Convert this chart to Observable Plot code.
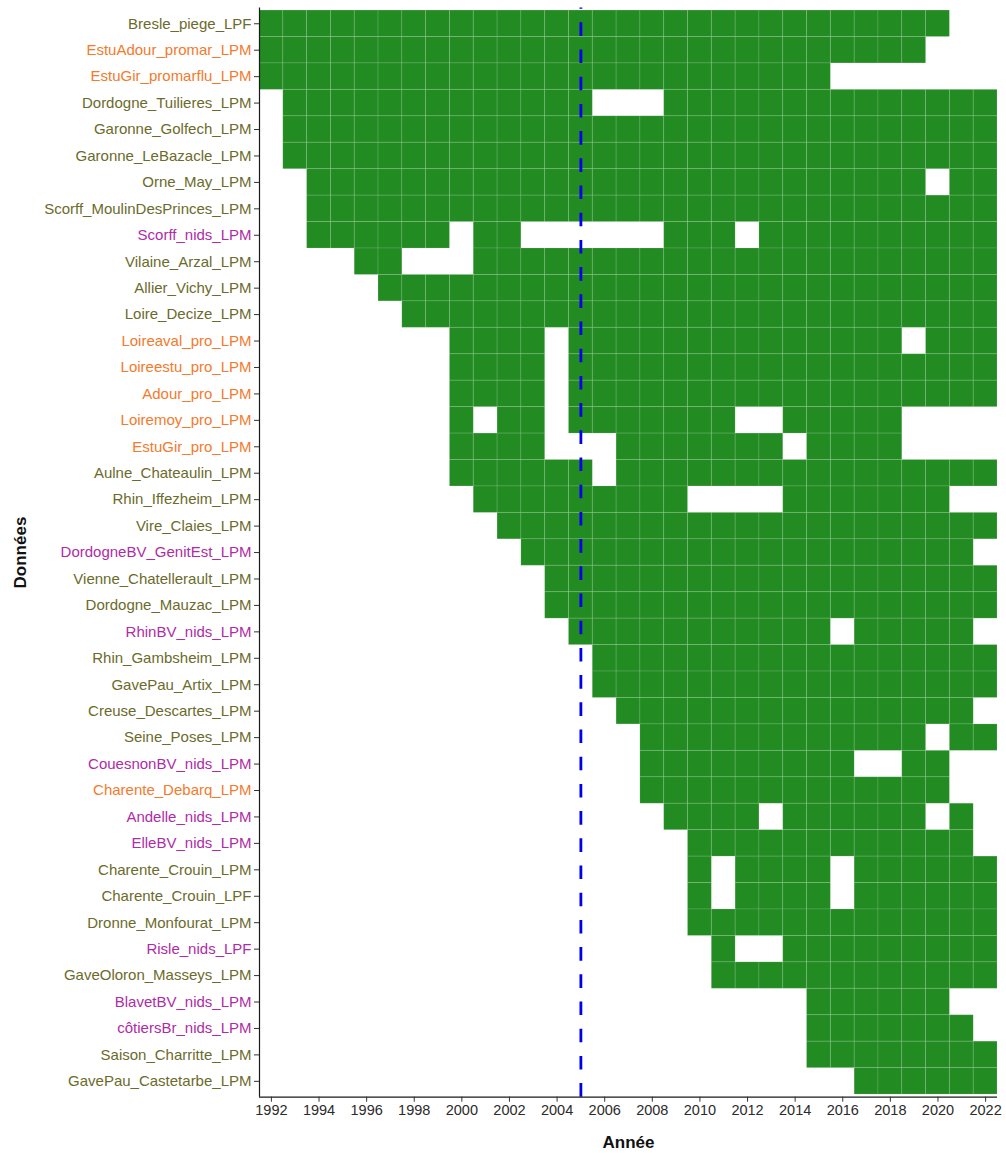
<!DOCTYPE html>
<html>
<head>
<meta charset="utf-8">
<script src="https://cdn.jsdelivr.net/npm/d3@7"></script>
<script src="https://cdn.jsdelivr.net/npm/@observablehq/plot@0.6"></script>
<style>
  html, body { margin: 0; padding: 0; background: #ffffff; }
</style>
</head>
<body>
<div id="chart"></div>
<script>
const years = [1992,1993,1994,1995,1996,1997,1998,1999,2000,2001,2002,2003,2004,2005,2006,2007,2008,2009,2010,2011,2012,2013,2014,2015,2016,2017,2018,2019,2020,2021,2022];
const xTicks = [1992,1994,1996,1998,2000,2002,2004,2006,2008,2010,2012,2014,2016,2018,2020,2022];
const refYear = 2005;

const names = [
  "Bresle_piege_LPF","EstuAdour_promar_LPM","EstuGir_promarflu_LPM","Dordogne_Tuilieres_LPM",
  "Garonne_Golfech_LPM","Garonne_LeBazacle_LPM","Orne_May_LPM","Scorff_MoulinDesPrinces_LPM",
  "Scorff_nids_LPM","Vilaine_Arzal_LPM","Allier_Vichy_LPM","Loire_Decize_LPM",
  "Loireaval_pro_LPM","Loireestu_pro_LPM","Adour_pro_LPM","Loiremoy_pro_LPM",
  "EstuGir_pro_LPM","Aulne_Chateaulin_LPM","Rhin_Iffezheim_LPM","Vire_Claies_LPM",
  "DordogneBV_GenitEst_LPM","Vienne_Chatellerault_LPM","Dordogne_Mauzac_LPM","RhinBV_nids_LPM",
  "Rhin_Gambsheim_LPM","GavePau_Artix_LPM","Creuse_Descartes_LPM","Seine_Poses_LPM",
  "CouesnonBV_nids_LPM","Charente_Debarq_LPM","Andelle_nids_LPM","ElleBV_nids_LPM",
  "Charente_Crouin_LPM","Charente_Crouin_LPF","Dronne_Monfourat_LPM","Risle_nids_LPF",
  "GaveOloron_Masseys_LPM","BlavetBV_nids_LPM","côtiersBr_nids_LPM","Saison_Charritte_LPM",
  "GavePau_Castetarbe_LPM"
];

const groups = [
  "station","peche","peche","station",
  "station","station","station","station",
  "nids","station","station","station",
  "peche","peche","peche","peche",
  "peche","station","station","station",
  "nids","station","station","nids",
  "station","station","station","station",
  "nids","peche","nids","nids",
  "station","station","station","nids",
  "station","nids","nids","station",
  "station"
];

// one character per year 1992..2022 (spaces only group years by 5)
const presence = [
  "11111 11111 11111 11111 11111 11110 0",
  "11111 11111 11111 11111 11111 11100 0",
  "11111 11111 11111 11111 11110 00000 0",
  "01111 11111 11110 00111 11111 11111 1",
  "01111 11111 11111 11111 11111 11111 1",
  "01111 11111 11111 11111 11111 11111 1",
  "00111 11111 11111 11111 11111 11101 1",
  "00111 11111 11111 11111 11111 11111 1",
  "00111 11101 10000 00111 01111 11111 1",
  "00001 10001 11111 11111 11111 11111 1",
  "00000 11111 11111 11111 11111 11111 1",
  "00000 01111 11111 11111 11111 11111 1",
  "00000 00011 11011 11111 11111 11011 1",
  "00000 00011 11011 11111 11111 11111 1",
  "00000 00011 11011 11111 11111 11111 1",
  "00000 00010 11011 11111 00111 11000 0",
  "00000 00011 11000 11111 11011 11000 0",
  "00000 00011 11110 11111 11111 11111 1",
  "00000 00001 11111 11100 00111 11110 0",
  "00000 00000 11111 11111 11111 11111 1",
  "00000 00000 01111 11111 11111 11111 0",
  "00000 00000 00111 11111 11111 11111 1",
  "00000 00000 00111 11111 11111 11111 1",
  "00000 00000 00011 11111 11110 11111 0",
  "00000 00000 00001 11111 11111 11111 1",
  "00000 00000 00001 11111 11111 11111 1",
  "00000 00000 00000 11111 11111 11111 0",
  "00000 00000 00000 01111 11111 11101 1",
  "00000 00000 00000 01111 11111 00110 0",
  "00000 00000 00000 01111 11111 11110 0",
  "00000 00000 00000 00111 10111 11101 0",
  "00000 00000 00000 00011 11111 11111 0",
  "00000 00000 00000 00010 11110 11111 1",
  "00000 00000 00000 00010 11110 11111 1",
  "00000 00000 00000 00011 11111 11111 1",
  "00000 00000 00000 00001 00111 11111 1",
  "00000 00000 00000 00001 11111 11111 1",
  "00000 00000 00000 00000 00011 11110 0",
  "00000 00000 00000 00000 00011 11111 0",
  "00000 00000 00000 00000 00011 11111 1",
  "00000 00000 00000 00000 00000 11111 1"
];

const groupColors = { station: "#6b6b2b", peche: "#f47a2c", nids: "#b02ba6" };

// build the tile table from the arrays above
const cells = [];
presence.forEach((s, i) => {
  s.replace(/\s/g, "").split("").forEach((c, j) => {
    if (c === "1") cells.push({ name: names[i], row: i + 1, year: years[j] });
  });
});
const rows = names.map((_, i) => i + 1);
const yDomain = [names.length + 0.6, 0.4];
const xDomain = [years[0] - 0.5, years[years.length - 1] + 0.5];

const chart = Plot.plot({
  width: 1006,
  height: 1153,
  marginLeft: 259,
  marginRight: 9,
  marginTop: 7.4,
  marginBottom: 56.3,
  style: { fontFamily: "'Liberation Sans', Arial, Helvetica, sans-serif", fontSize: "14px", background: "#ffffff", color: "#222" },
  x: { domain: xDomain },
  y: { domain: yDomain },
  color: { type: "identity" },
  marks: [
    Plot.rect(cells, {
      x1: d => d.year - 0.5, x2: d => d.year + 0.5,
      y1: d => d.row - 0.5, y2: d => d.row + 0.5,
      fill: "#228B22", stroke: "#ffffff", strokeOpacity: 0.12, strokeWidth: 1
    }),
    Plot.ruleX([refYear], { y1: yDomain[0], y2: yDomain[1], stroke: "#0000ee", strokeWidth: 2.8, strokeDasharray: "13.6 13.6" }),
    Plot.ruleX([xDomain[0]], { stroke: "#1a1a1a", strokeWidth: 1.2 }),
    Plot.ruleY([yDomain[0]], { stroke: "#1a1a1a", strokeWidth: 1.2 }),
    Plot.axisX(xTicks, { tickSize: 5, tickPadding: 3, tickFormat: d => String(d), fill: "#2b2b2b", stroke: "#333", label: null, fontSize: 14.5 }),
    Plot.axisY(rows, { tickSize: 5, tickPadding: 3, tickFormat: i => names[i - 1], fill: i => groupColors[groups[i - 1]], stroke: "#333", label: null, fontSize: 15 }),
    Plot.text(["Année"], { frameAnchor: "bottom", lineAnchor: "middle", dy: 45, fontWeight: "bold", fontSize: 17, fill: "#111" }),
    Plot.text(["Données"], { frameAnchor: "left", textAnchor: "middle", lineAnchor: "middle", dx: -239, rotate: -90, fontWeight: "bold", fontSize: 17, fill: "#111" })
  ]
});
document.getElementById("chart").appendChild(chart);
</script>
</body>
</html>
